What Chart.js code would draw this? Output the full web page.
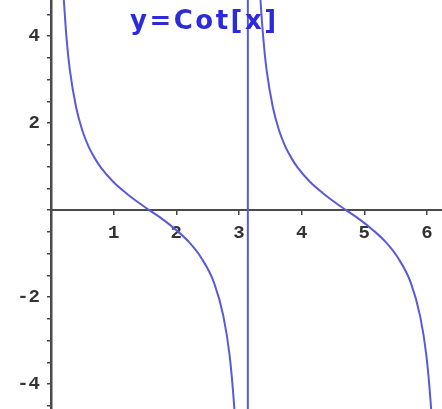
<!DOCTYPE html>
<html>
<head>
<meta charset="utf-8">
<script src="https://cdn.jsdelivr.net/npm/chart.js@4"></script>
<style>
  body { margin: 0; background: #fff; }
  #wrap { position: relative; width: 442px; height: 409px; }
  #label {
    position: absolute; left: 130px; top: 7px;
    font: bold 26px "DejaVu Sans", sans-serif; line-height: 26px;
    letter-spacing: 2.5px;
    color: #2b2bdc; white-space: nowrap;
  }
</style>
</head>
<body>
<div id="wrap">
  <canvas id="cotChart" width="442" height="409"></canvas>
  <div id="label">y=Cot[x]</div>
</div>
<script>
// cot(x) over 0..2pi; the jump at pi is kept as one joined line
const curveX = [0.20, 0.25, 0.30, 0.40, 0.50, 0.60, 0.70, 0.80, 1.00, 1.20, 1.40, 1.57, 1.80, 2.00, 2.20, 2.40, 2.60, 2.75, 2.85, 2.92, 2.95, 3.00, 3.08,
                3.140, 3.143,
                3.25, 3.30, 3.34, 3.39, 3.44, 3.54, 3.64, 3.74, 3.84, 3.94, 4.14, 4.34, 4.54, 4.71, 4.94, 5.14, 5.34, 5.54, 5.74, 5.89, 5.99, 6.06, 6.09, 6.14];
const curveY = [4.93, 3.92, 3.23, 2.37, 1.83, 1.46, 1.19, 0.97, 0.64, 0.39, 0.17, 0.00, -0.23, -0.46, -0.73, -1.10, -1.66, -2.43, -3.33, -4.44, -5.15, -7.0, -16.2,
                -60, 60,
                9.19, 6.26, 4.93, 3.92, 3.23, 2.37, 1.83, 1.46, 1.19, 0.97, 0.64, 0.39, 0.17, 0.00, -0.23, -0.46, -0.73, -1.10, -1.66, -2.43, -3.33, -4.44, -5.15, -7.0];

const xTicks = [1, 2, 3, 4, 5, 6];
const yTicks = [-4, -2, 2, 4];

const points = curveX.map((x, i) => ({ x: x, y: curveY[i] }));

new Chart(document.getElementById('cotChart'), {
  type: 'scatter',
  data: {
    datasets: [{
      data: points,
      showLine: true,
      borderColor: '#5a5ad9',
      borderWidth: 2,
      pointRadius: 0,
      cubicInterpolationMode: 'monotone'
    }]
  },
  options: {
    responsive: false,
    animation: false,
    layout: { padding: 0 },
    plugins: { legend: { display: false }, tooltip: { enabled: false } },
    scales: {
      x: {
        type: 'linear',
        min: 0,
        max: 6.24,
        position: { y: 0 },
        grid: { drawOnChartArea: false, tickLength: 4, color: '#444', lineWidth: 1.5 },
        border: { display: true, color: '#4a4a4a', width: 2 },
        ticks: {
          stepSize: 1,
          includeBounds: false,
          autoSkip: false,
          maxRotation: 0,
          padding: 8,
          color: '#333',
          font: { family: 'Liberation Mono', size: 19, weight: 'bold' },
          callback: v => xTicks.includes(v) ? String(v) : ''
        }
      },
      y: {
        type: 'linear',
        min: -4.57,
        max: 4.83,
        position: 'left',
        afterFit: scale => {
          scale.width = 51;
          scale.paddingTop = 0;
          scale.paddingBottom = 0;
        },
        grid: { drawOnChartArea: false, tickLength: 4, color: '#444', lineWidth: 1.5 },
        border: { display: true, color: '#4a4a4a', width: 2.5 },
        ticks: {
          stepSize: 0.5,
          includeBounds: false,
          autoSkip: false,
          padding: 7,
          color: '#333',
          font: { family: 'Liberation Mono', size: 19, weight: 'bold' },
          callback: v => yTicks.includes(v) ? String(v) : ''
        }
      }
    }
  }
});
</script>
</body>
</html>
